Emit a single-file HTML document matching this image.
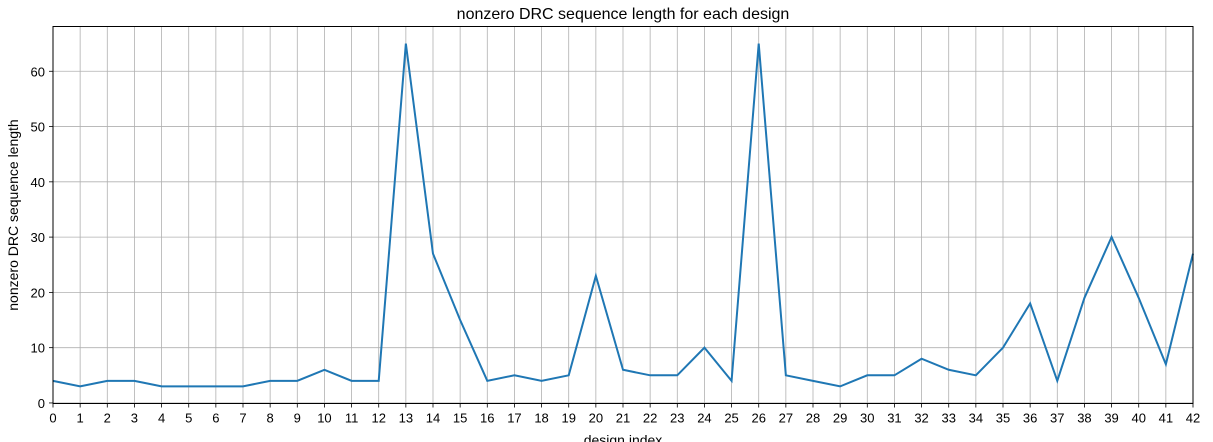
<!DOCTYPE html>
<html><head><meta charset="utf-8"><style>
html,body{margin:0;padding:0;background:#fff;}
svg{display:block;font-family:"Liberation Sans","DejaVu Sans",sans-serif;}
</style></head><body>
<svg id="chart" width="1213" height="442" viewBox="0 0 1213 442">
<text x="623" y="19" text-anchor="middle" font-size="16" fill="#000">nonzero DRC sequence length for each design</text>
<g id="grid"></g>
<g id="xticks"></g>
<g id="yticks"></g>
<path id="line" fill="none" stroke="#1f77b4" stroke-width="2"></path>
<rect x="53" y="26.5" width="1140" height="377" fill="none" stroke="#000" stroke-width="1"></rect>
<text x="623" y="445" text-anchor="middle" font-size="14" fill="#000">design index</text>
<text transform="translate(18,215) rotate(-90)" text-anchor="middle" font-size="14" fill="#000">nonzero DRC sequence length</text>
</svg>
<script>
const values = [4,3,4,4,3,3,3,3,4,4,6,4,4,65,27,15,4,5,4,5,23,6,5,5,10,4,65,5,4,3,5,5,8,6,5,10,18,4,19,30,19,7,27];
const yTicks = [0,10,20,30,40,50,60];
const NS = "http://www.w3.org/2000/svg";
const x0 = 53, x1 = 1193, yTop = 26.5, yBot = 403.5;
const yMin = -0.1, yMax = 68.1;
function xs(i){ return x0 + i * (x1 - x0) / (values.length - 1); }
function ys(v){ return yBot - (v - yMin) / (yMax - yMin) * (yBot - yTop); }
const grid = document.getElementById('grid');
const xt = document.getElementById('xticks');
const yt = document.getElementById('yticks');
function mk(tag, attrs, parent){ const e = document.createElementNS(NS, tag); for (const k in attrs) e.setAttribute(k, attrs[k]); parent.appendChild(e); return e; }
values.forEach((v, i) => {
  const x = xs(i);
  const g = mk('line', {x1:x, x2:x, y1:yTop, y2:yBot, stroke:'#b0b0b0', 'stroke-width':0.8}, grid);
  
  
  const t = mk('line', {x1:x, x2:x, y1:yBot, y2:yBot+4, stroke:'#000', 'stroke-width':0.8}, xt);
  
  
  const l = mk('text', {x:x, y:yBot+19, 'text-anchor':'middle', 'font-size':13, fill:'#000'}, xt);
  l.textContent = i;
  
  
});
yTicks.forEach(v => {
  const y = ys(v);
  const g = mk('line', {x1:x0, x2:x1, y1:y, y2:y, stroke:'#b0b0b0', 'stroke-width':0.8}, grid);
  
  
  const t = mk('line', {x1:x0-4, x2:x0, y1:y, y2:y, stroke:'#000', 'stroke-width':0.8}, yt);
  
  
  const l = mk('text', {x:x0-8, y:y+5, 'text-anchor':'end', 'font-size':13, fill:'#000'}, yt);
  l.textContent = v;
  
  
});
document.getElementById('line').setAttribute('d', values.map((v, i) => (i ? 'L' : 'M') + xs(i) + ',' + ys(v)).join(' '));
</script>
</body></html>
